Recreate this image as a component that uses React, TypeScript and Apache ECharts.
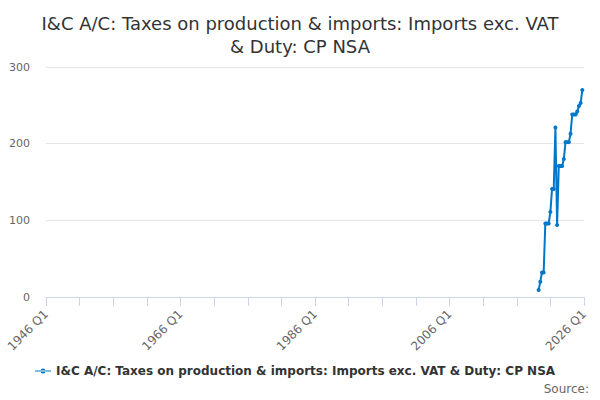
import React, { useEffect, useRef } from "react";
import * as echarts from "echarts";

const TITLE = "I&C A/C: Taxes on production & imports: Imports exc. VAT\n& Duty: CP NSA";
const SERIES_NAME = "I&C A/C: Taxes on production & imports: Imports exc. VAT & Duty: CP NSA";
const START_YEAR = 1946;
const END_YEAR = 2026;
// Data begins 2019 Q2 and runs to 2025 Q4
const DATA_START = "2019 Q2";
const values = [9, 20, 32, 32, 96, 96, 96, 111, 141, 141, 221, 94, 171, 171, 171, 180, 202, 202, 202, 213, 238, 238, 238, 242, 249, 253, 270];
const yTicks = [0, 100, 200, 300];

function buildCategories(): string[] {
  const cats: string[] = [];
  for (let y = START_YEAR; y < END_YEAR; y++) {
    for (let q = 1; q <= 4; q++) cats.push(`${y} Q${q}`);
  }
  cats.push(`${END_YEAR} Q1`);
  return cats;
}

export default function App() {
  const ref = useRef<HTMLDivElement>(null);
  useEffect(() => {
    document.body.style.margin = "0";
    if (!ref.current) return;
    const chart = echarts.init(ref.current, undefined, { renderer: "svg" });
    const categories = buildCategories();
    const startIdx = categories.indexOf(DATA_START);
    const data: (number | null)[] = categories.map((_, i) => {
      const k = i - startIdx;
      return k >= 0 && k < values.length ? values[k] : null;
    });
    chart.setOption({
      animation: false,
      backgroundColor: "#ffffff",
      title: {
        text: TITLE,
        left: "center",
        top: 7,
        textStyle: {
          fontFamily: "DejaVu Sans",
          fontSize: 18,
          fontWeight: "normal",
          color: "#333333",
          lineHeight: 23,
        },
      },
      grid: { left: 46, right: 16, top: 67, bottom: 103, containLabel: false },
      xAxis: {
        type: "category",
        data: categories,
        boundaryGap: false,
        axisLine: { show: true, lineStyle: { color: "#ccd6eb", width: 1 } },
        axisTick: { show: true, interval: 19, length: 9, lineStyle: { color: "#ccd6eb" } },
        axisLabel: {
          interval: 79,
          rotate: 45,
          margin: 15,
          fontFamily: "DejaVu Sans",
          fontSize: 12,
          color: "#666666",
        },
        splitLine: { show: false },
      },
      yAxis: {
        type: "value",
        min: yTicks[0],
        max: yTicks[yTicks.length - 1],
        interval: 100,
        axisLine: { show: false },
        axisTick: { show: false },
        axisLabel: { fontFamily: "DejaVu Sans", fontSize: 11, color: "#666666", margin: 16 },
        splitLine: { lineStyle: { color: "#e6e6e6", width: 1 } },
      },
      legend: {
        bottom: 18,
        left: 30,
        itemWidth: 16,
        itemHeight: 8,
        itemGap: 5,
        icon: "path://M0,3.5 L16,3.5 L16,4.5 L0,4.5 Z M5.5,4 A2.5,2.5 0 1,0 10.5,4 A2.5,2.5 0 1,0 5.5,4 Z",
        textStyle: { fontFamily: "DejaVu Sans", fontSize: 12, fontWeight: "bold", color: "#333333" },
        data: [SERIES_NAME],
      },
      graphic: [
        {
          type: "text",
          right: 11,
          top: 383,
          style: { text: "Source:", fontFamily: "DejaVu Sans", fontSize: 12, fill: "#666666" },
        },
      ],
      series: [
        {
          name: SERIES_NAME,
          type: "line",
          data,
          connectNulls: false,
          symbol: "circle",
          symbolSize: 4,
          showSymbol: true,
          showAllSymbol: true,
          lineStyle: { color: "#0077c8", width: 2 },
          itemStyle: { color: "#0077c8" },
        },
      ],
    });
    return () => chart.dispose();
  }, []);
  return <div ref={ref} style={{ width: 600, height: 400 }} />;
}
